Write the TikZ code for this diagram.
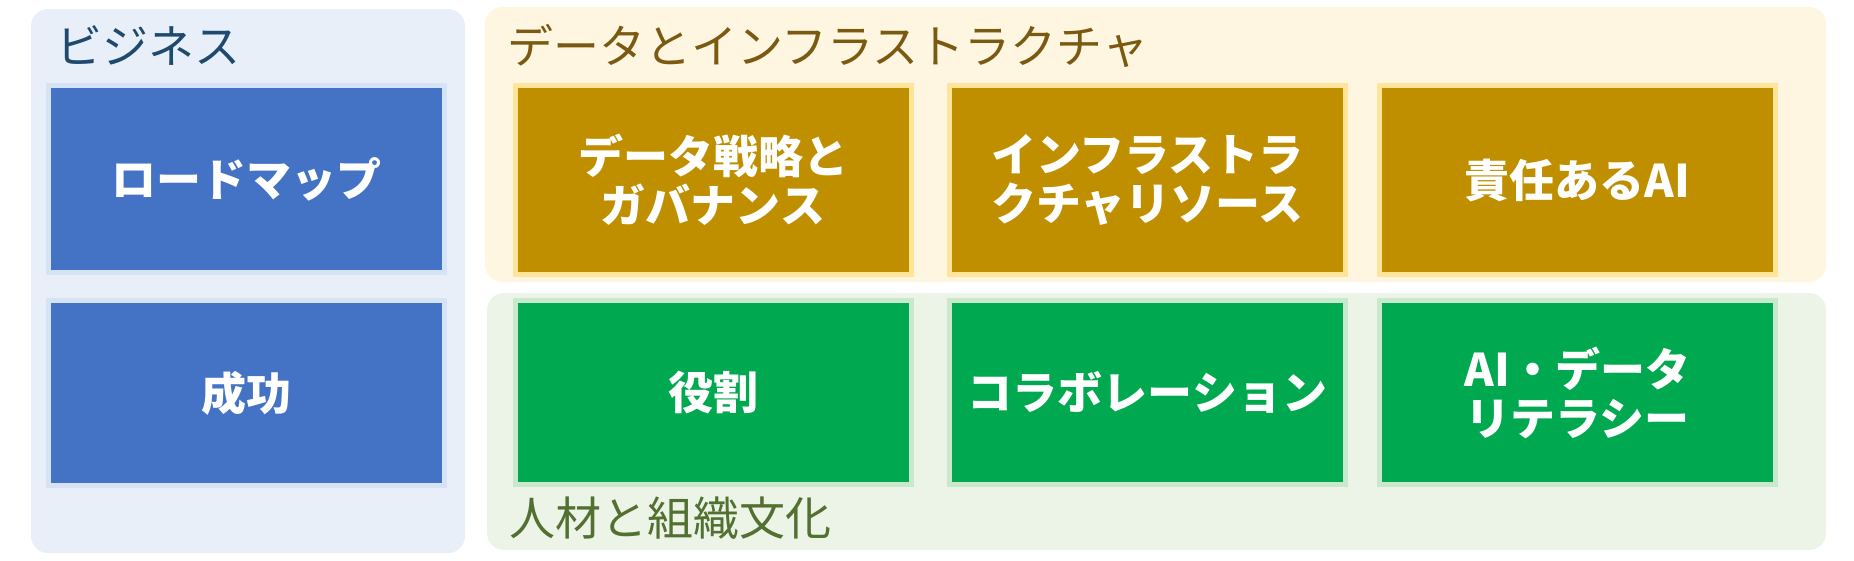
\documentclass[tikz,border=0pt]{standalone}
\usepackage{fontspec}
\setmainfont{Noto Sans CJK JP}
\definecolor{bizfill}{HTML}{E8EFF8}
\definecolor{bizbox}{HTML}{4472C4}
\definecolor{bizedge}{HTML}{D5E3F5}
\definecolor{bizhead}{HTML}{1F4A70}
\definecolor{datfill}{HTML}{FFF6E2}
\definecolor{datbox}{HTML}{BF8F00}
\definecolor{datedge}{HTML}{FFE499}
\definecolor{dathead}{HTML}{7A5A10}
\definecolor{pplfill}{HTML}{ECF4E8}
\definecolor{pplbox}{HTML}{00A84F}
\definecolor{ppledge}{HTML}{C9E8CC}
\definecolor{pplhead}{HTML}{527030}

\begin{document}
\begin{tikzpicture}[x=1pt, y=-1pt,
  every node/.style = {inner sep=0pt, outer sep=0pt},
  panel/.style = {rectangle, rounded corners=17pt},
  heading/.style = {anchor=base west, font=\fontsize{46}{50}\selectfont},
  tile/.style = {rectangle, line width=5pt, minimum width=396pt, align=center,
    text=white, font=\bfseries\fontsize{45}{49}\selectfont}]

  \useasboundingbox (0,0) rectangle (1854,560);

  % panels
  \node[panel, fill=bizfill, minimum width=434pt, minimum height=544pt] (biz) at (248,281) {};
  \node[panel, fill=datfill, minimum width=1341pt, minimum height=275pt] (dat) at (1155.5,144.5) {};
  \node[panel, fill=pplfill, minimum width=1339pt, minimum height=257pt] (ppl) at (1156.5,421.5) {};

  \node[heading, text=bizhead] (bizt) at (56,63) {ビジネス};
  \node[heading, text=dathead] (datt) at (507,63) {データとインフラストラクチャ};
  \node[heading, text=pplhead] (pplt) at (509,535) {人材と組織文化};

  % business
  \node[tile, fill=bizbox, draw=bizedge, minimum height=187pt] (road) at (246,179) {ロードマップ};
  \node[tile, fill=bizbox, draw=bizedge, minimum height=185pt] (succ) at (246,393) {成功};

  % data and infrastructure
  \node[tile, fill=datbox, draw=datedge, minimum height=189pt] (strat) at (713,180) {データ戦略と\\ガバナンス};
  \node[tile, fill=datbox, draw=datedge, minimum height=189pt] (infra) at (1147.5,180) {インフラストラ\\クチャリソース};
  \node[tile, fill=datbox, draw=datedge, minimum height=189pt] (resp) at (1577.5,180) {責任あるAI};

  % people and culture
  \node[tile, fill=pplbox, draw=ppledge, minimum height=184pt] (role) at (713,392.5) {役割};
  \node[tile, fill=pplbox, draw=ppledge, minimum height=184pt] (collab) at (1147.5,392.5) {コラボレーション};
  \node[tile, fill=pplbox, draw=ppledge, minimum height=184pt] (lit) at (1577.5,392.5) {AI・データ\\リテラシー};
\end{tikzpicture}
\end{document}
